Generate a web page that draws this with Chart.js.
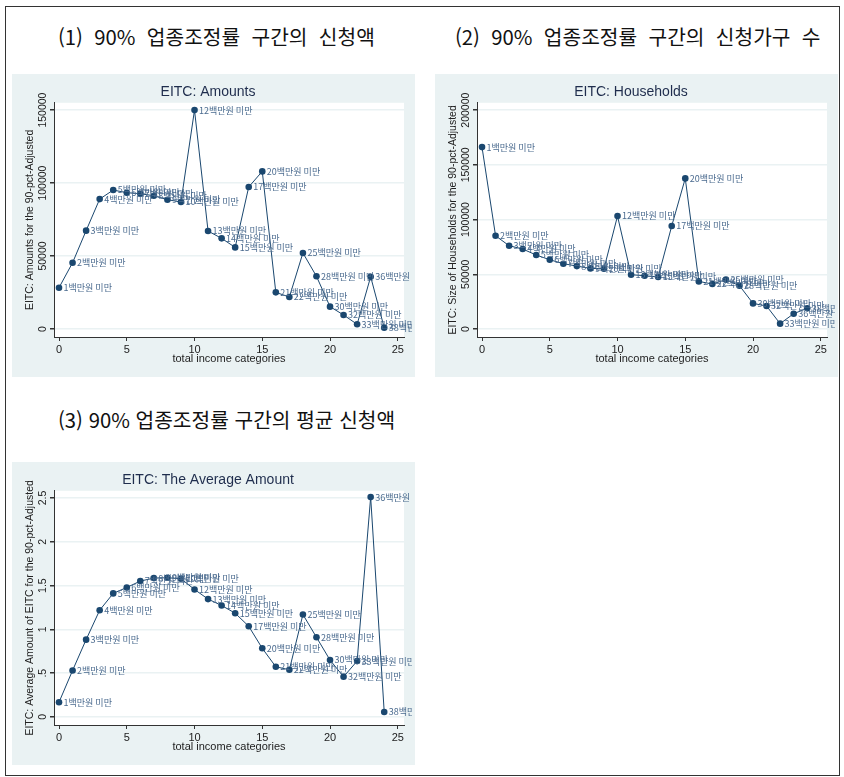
<!DOCTYPE html>
<html lang="ko">
<head>
<meta charset="utf-8">
<script src="https://cdn.jsdelivr.net/npm/chart.js@4.4.1/dist/chart.umd.min.js"></script>
<style>
    body { margin: 0; width: 844px; height: 777px; position: relative; overflow: hidden; background: #fff; }
    .frame { position: absolute; left: 5px; top: 6px; width: 833px; height: 768px; border: 1px solid #333; }
    .head { position: absolute; font-family: 'Noto Sans CJK KR', sans-serif; font-size: 20.3px; line-height: 1; color: #111; white-space: pre; }
    canvas.panel { position: absolute; background: #eaf2f3; }
</style>
</head>
<body>
<div class="frame"></div>
<div class="head" id="head1" style="left:58px; top:26px"></div>
<div class="head" id="head2" style="left:455px; top:26px"></div>
<div class="head" id="head3" style="left:58px; top:409px"></div>
<canvas id="amountChart" class="panel" width="403" height="303" style="left:12px; top:74px"></canvas>
<canvas id="householdChart" class="panel" width="403" height="303" style="left:435px; top:74px"></canvas>
<canvas id="averageChart" class="panel" width="403" height="303" style="left:12px; top:462px"></canvas>

<script>
// 소득구간 (total income categories)
const incomeIdx = [0, 1, 2, 3, 4, 5, 6, 7, 8, 9, 10, 11, 12, 13, 14, 15, 16, 17, 18, 19, 20, 21, 22, 23, 24];
const incomeLabels = [
    '1백만원 미만', '2백만원 미만', '3백만원 미만', '4백만원 미만', '5백만원 미만',
    '6백만원 미만', '7백만원 미만', '8백만원 미만', '9백만원 미만', '10백만원 미만',
    '12백만원 미만', '13백만원 미만', '14백만원 미만', '15백만원 미만', '17백만원 미만',
    '20백만원 미만', '21백만원 미만', '22백만원 미만', '25백만원 미만', '28백만원 미만',
    '30백만원 미만', '32백만원 미만', '33백만원 미만', '36백만원 미만', '38백만원 이상'
];

// (1) 신청액
const amounts = [28300, 45400, 67400, 89000, 95200, 93400, 92700, 91300, 88600, 87000,
    150000, 67100, 62100, 55900, 97300, 108000, 25100, 21900, 52100, 36100,
    15300, 9600, 3200, 35800, 900];
// (2) 신청가구 수
const households = [166200, 85200, 76100, 73100, 67600, 63300, 59700, 57500, 55400, 55100,
    103200, 49600, 48700, 47500, 94100, 137600, 43500, 41100, 45100, 39600,
    23400, 21000, 4900, 14000, 18900];
// (3) 평균 신청액
const avgAmounts = [0.168, 0.531, 0.883, 1.219, 1.411, 1.479, 1.552, 1.586, 1.590, 1.579,
    1.456, 1.346, 1.273, 1.185, 1.036, 0.784, 0.573, 0.539, 1.170, 0.910,
    0.650, 0.459, 0.638, 2.511, 0.057];

const xTicks = [0, 5, 10, 15, 20, 25];
const amountTicks = [0, 50000, 100000, 150000];
const amountTickText = ['0', '50000', '100000', '150000'];
const householdTicks = [0, 50000, 100000, 150000, 200000];
const householdTickText = ['0', '50000', '100000', '150000', '200000'];
const avgTicks = [0, 0.5, 1, 1.5, 2, 2.5];
const avgTickText = ['0', '.5', '1', '1.5', '2', '2.5'];

const panelHeads = [
    '(1)  90%  업종조정률  구간의  신청액',
    '(2)  90%  업종조정률  구간의  신청가구  수',
    '(3) 90% 업종조정률 구간의 평균 신청액'
];

const NAVY = '#1a476f';
const AXIS = '#333';
const SANS = '"Liberation Sans", Arial, sans-serif';

document.getElementById('head1').textContent = panelHeads[0];
document.getElementById('head2').textContent = panelHeads[1];
document.getElementById('head3').textContent = panelHeads[2];

// 흰색 plot region
const plotBg = {
    id: 'plotBg',
    beforeDraw(chart) {
        const { ctx, chartArea: a } = chart;
        ctx.save();
        ctx.fillStyle = '#fff';
        ctx.fillRect(a.left, a.top, a.right - a.left, a.bottom - a.top);
        ctx.restore();
    }
};

// Stata 스타일 세로 눈금 라벨
const yTickText = {
    id: 'yTickText',
    afterDraw(chart, args, opts) {
        const { ctx, chartArea, scales: { y } } = chart;
        ctx.save();
        ctx.font = '10.5px ' + SANS;
        ctx.fillStyle = '#222';
        ctx.textAlign = 'center';
        ctx.textBaseline = 'middle';
        y.ticks.forEach((t, i) => {
            ctx.save();
            ctx.translate(chartArea.left - 10.5, y.getPixelForValue(t.value));
            ctx.rotate(-Math.PI / 2);
            ctx.fillText(opts.text[i], 0, 0);
            ctx.restore();
        });
        ctx.restore();
    }
};

// 점 오른쪽 라벨 (mlabel)
const markerLabels = {
    id: 'markerLabels',
    afterDatasetsDraw(chart, args, opts) {
        const { ctx } = chart;
        const meta = chart.getDatasetMeta(0);
        ctx.save();
        ctx.beginPath();
        ctx.rect(0, 0, chart.width - 3, chart.height);
        ctx.clip();
        ctx.font = '9px "Noto Sans CJK KR", sans-serif';
        ctx.fillStyle = '#4b6b8f';
        ctx.textAlign = 'left';
        ctx.textBaseline = 'middle';
        meta.data.forEach((pt, i) => ctx.fillText(opts.labels[i], pt.x + 4.5, pt.y));
        ctx.restore();
    }
};

function makeChart(id, title, yTitle, values, yTicks, yText, yMin, yMax) {
    return new Chart(document.getElementById(id), {
        type: 'scatter',
        data: {
            datasets: [{
                data: values.map((v, i) => ({ x: incomeIdx[i], y: v })),
                showLine: true,
                borderColor: NAVY,
                borderWidth: 1,
                pointRadius: 3.3,
                pointBorderWidth: 0,
                pointBackgroundColor: NAVY,
                clip: false
            }]
        },
        options: {
            responsive: false,
            animation: false,
            devicePixelRatio: 1,
            layout: { padding: { left: 0, right: 11, top: 0, bottom: 0 } },
            plugins: {
                legend: { display: false },
                tooltip: { enabled: false },
                title: {
                    display: true, text: title, color: '#1f2d4d',
                    font: { family: SANS, size: 14, weight: 'normal' },
                    padding: { top: 10, bottom: 2 }
                },
                yTickText: { text: yText },
                markerLabels: { labels: incomeLabels }
            },
            scales: {
                x: {
                    type: 'linear', min: -0.37, max: 25.46,
                    afterBuildTicks: s => { s.ticks = xTicks.map(v => ({ value: v })); },
                    afterFit: s => { s.height = 40; },
                    grid: { drawOnChartArea: false, drawTicks: true, tickLength: 4, tickColor: AXIS },
                    border: { color: AXIS, width: 1 },
                    ticks: { color: '#222', padding: 2, maxRotation: 0, font: { family: SANS, size: 11 } },
                    title: {
                        display: true, text: 'total income categories', color: '#222',
                        font: { family: SANS, size: 11, weight: 'normal' },
                        padding: { top: 0, bottom: 11 }
                    }
                },
                y: {
                    type: 'linear', min: yMin, max: yMax,
                    afterBuildTicks: s => { s.ticks = yTicks.map(v => ({ value: v })); },
                    afterFit: s => { s.width = 42; },
                    grid: { color: '#eaf2f3', lineWidth: 1.5, tickColor: AXIS, tickLength: 4 },
                    border: { color: AXIS, width: 1 },
                    ticks: { display: false },
                    title: {
                        display: true, text: yTitle, color: '#222',
                        font: { family: SANS, size: 10.5, weight: 'normal' },
                        padding: { top: 12, bottom: 0 }
                    }
                }
            }
        },
        plugins: [plotBg, yTickText, markerLabels]
    });
}

makeChart('amountChart', 'EITC: Amounts', 'EITC: Amounts for the 90-pct-Adjusted',
    amounts, amountTicks, amountTickText, -5500, 155000);
makeChart('householdChart', 'EITC: Households', 'EITC: Size of Households for the 90-pct-Adjusted',
    households, householdTicks, householdTickText, -7300, 206700);
makeChart('averageChart', 'EITC: The Average Amount', 'EITC: Average Amount of EITC for the 90-pct-Adjusted',
    avgAmounts, avgTicks, avgTickText, -0.092, 2.583);
</script>
</body>
</html>
